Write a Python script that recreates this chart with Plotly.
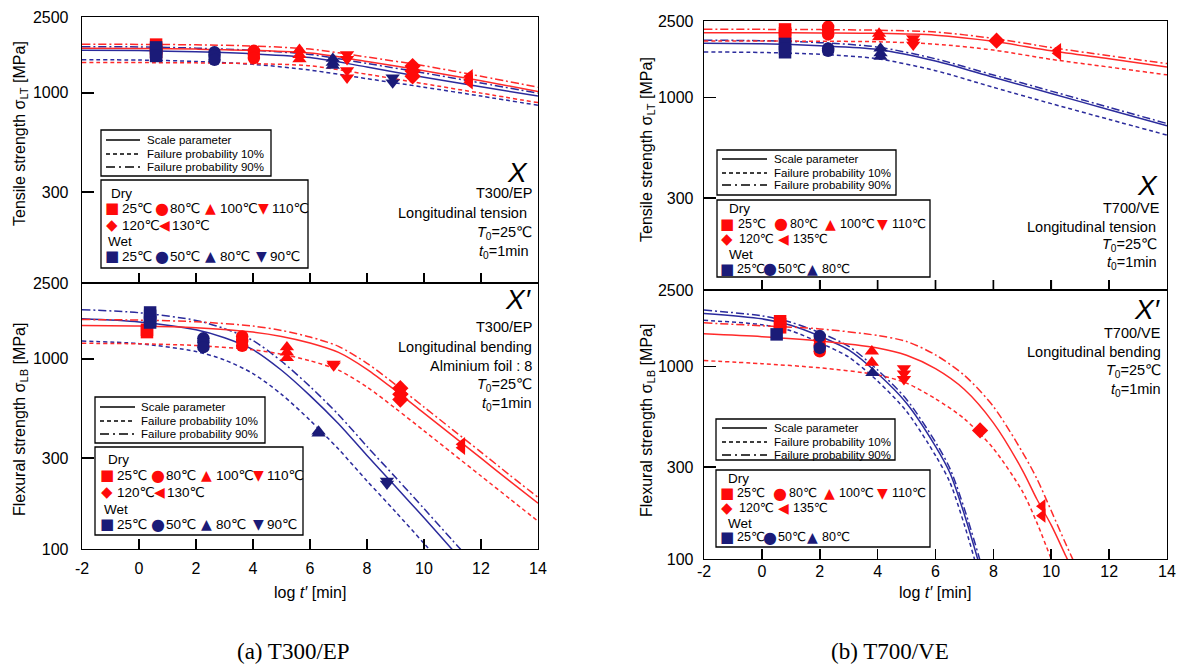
import math
import plotly.graph_objects as go

W, H = 1179, 664

# ---------------- data ----------------
# Top-left: T300/EP longitudinal tension
TL_X = [-2, 0, 2, 4, 6, 8, 10, 12, 14]
TL_DRY_SCALE = [1713, 1710, 1695, 1670, 1615, 1460, 1305, 1155, 1016]
TL_DRY_P90 = [1797, 1795, 1785, 1760, 1695, 1540, 1386, 1220, 1069]
TL_DRY_P10 = [1442, 1440, 1435, 1422, 1385, 1250, 1114, 995, 887]
TL_WET_SCALE = [1672, 1665, 1640, 1600, 1530, 1365, 1205, 1075, 960]
TL_WET_P90 = [1746, 1740, 1715, 1670, 1590, 1425, 1270, 1125, 995]
TL_WET_P10 = [1489, 1485, 1460, 1410, 1315, 1185, 1069, 960, 859]
TL_DRY_PTX = [0.6, 4.03, 5.63, 7.3, 9.6, 11.6]
TL_DRY_PTY = [[1790, 1700, 1630], [1660, 1590, 1520], [1680, 1580, 1500],
              [1590, 1500, 1310, 1200], [1380, 1300, 1220], [1220, 1175, 1135]]
TL_WET_PTX = [0.6, 2.65, 6.8, 8.9]
TL_WET_PTY = [[1730, 1640, 1560], [1630, 1560, 1490], [1510, 1440, 1390], [1200, 1130]]

# Bottom-left: T300/EP longitudinal bending
BL_WX = [-2, 0, 2, 3, 4, 5, 6, 7, 8, 9, 10, 11, 12]
BL_WET_SCALE = [1620, 1560, 1420, 1290, 1115, 870, 640, 455, 310, 213, 146, 99, 68]
BL_WET_P90 = [1811, 1745, 1590, 1440, 1245, 970, 715, 508, 346, 238, 163, 111, 76]
BL_WET_P10 = [1238, 1200, 1090, 985, 835, 650, 475, 335, 228, 157, 107, 73, 50]
BL_DX = [-2, 0, 2, 4, 5, 6, 7, 8, 9, 10, 11, 12, 13, 14]
BL_DRY_SCALE = [1494, 1485, 1455, 1380, 1310, 1210, 1080, 880, 680, 518, 394, 300, 228, 174]
BL_DRY_P90 = [1606, 1596, 1564, 1484, 1408, 1301, 1161, 946, 731, 557, 424, 323, 245, 187]
BL_DRY_P10 = [1205, 1198, 1173, 1113, 1056, 976, 871, 710, 548, 418, 318, 242, 184, 140]
BL_DRY_PTX = [0.28, 3.62, 5.19, 6.83, 9.17, 11.33]
BL_DRY_PTY = [[1420, 1380], [1310, 1240, 1170], [1150, 1080, 1010], [940, 920],
              [700, 650, 610], [355, 340]]
BL_WET_PTX = [0.39, 2.26, 6.3, 8.7]
BL_WET_PTY = [[1750, 1680, 1600, 1550], [1280, 1220, 1150], [415, 405], [228, 220]]

# Top-right: T700/VE longitudinal tension
TR_X = [-2, 0, 2, 4, 6, 8, 10, 12, 14]
TR_DRY_SCALE = [2175, 2173, 2168, 2158, 2110, 1960, 1750, 1590, 1443]
TR_DRY_P90 = [2265, 2262, 2255, 2240, 2190, 2030, 1820, 1650, 1501]
TR_DRY_P10 = [1970, 1968, 1962, 1950, 1895, 1765, 1580, 1440, 1312]
TR_WET_SCALE = [1916, 1905, 1860, 1780, 1550, 1275, 1050, 865, 713]
TR_WET_P90 = [1987, 1975, 1930, 1830, 1590, 1310, 1080, 890, 733]
TR_WET_P10 = [1727, 1715, 1680, 1590, 1380, 1130, 930, 770, 638]
TR_DRY_PTX = [0.8, 2.29, 4.05, 5.23, 8.11, 10.23]
TR_DRY_PTY = [[2260, 2160, 2090], [2330, 2230, 2130], [2150, 2060],
              [2030, 1950, 1880], [1975], [1760, 1700]]
TR_WET_PTX = [0.8, 2.29, 4.1]
TR_WET_PTY = [[1900, 1800, 1720], [1800, 1750], [1800, 1700, 1630]]

# Bottom-right: T700/VE longitudinal bending
BR_WX = [-2, 0, 1, 2, 3, 4, 5, 6, 6.5, 7, 7.5, 8]
BR_WET_SCALE = [1888, 1770, 1640, 1440, 1220, 920, 645, 385, 280, 170, 95, 50]
BR_WET_P90 = [1965, 1835, 1700, 1500, 1275, 960, 675, 405, 295, 182, 103, 55]
BR_WET_P10 = [1740, 1650, 1535, 1330, 1120, 840, 585, 345, 250, 150, 83, 44]
BR_DX = [-2, 0, 2, 4, 5, 6, 7, 8, 9, 9.5, 10, 10.5, 11, 11.5]
BR_DRY_SCALE = [1480, 1430, 1360, 1250, 1145, 975, 760, 510, 290, 205, 150, 104, 72, 48]
BR_DRY_P90 = [1688, 1630, 1570, 1450, 1350, 1150, 900, 620, 360, 262, 178, 120, 82, 55]
BR_DRY_P10 = [1075, 1035, 985, 905, 820, 680, 535, 375, 225, 155, 100, 66, 44, 30]
BR_DRY_PTX = [0.63, 2.0, 3.8, 4.91, 7.54, 9.69]
BR_DRY_PTY = [[1720, 1660, 1600], [1380, 1290, 1200], [1200, 1050],
              [980, 920, 860], [466], [188, 168]]
BR_WET_PTX = [0.51, 2.0, 3.82]
BR_WET_PTY = [[1470], [1440, 1250], [927]]

X_TICKS = [-2, 0, 2, 4, 6, 8, 10, 12, 14]
Y_TICKS_TOP = [2500, 1000, 300]
Y_TICKS_BOT = [2500, 1000, 300, 100]

# ---------------- style ----------------
RED = "#ff0a0a"
BLUE = "#1b1b78"
RED_L = "#ff2a2a"
BLUE_L = "#2b2b9c"
DASH10 = "4px,3px"
DASH90 = "8px,3px,2px,3px"
DRY_SYM = ["square", "circle", "triangle-up", "triangle-down", "diamond", "triangle-left"]
WET_SYM = ["square", "circle", "triangle-up", "triangle-down"]
FONT = "Liberation Sans, Arial, DejaVu Sans"


def px(x):
    return x / W


def py(y):
    return 1 - y / H


def aid(n):
    return "" if n == "1" else n


fig = go.Figure()


def add_curves(xs, scale, p10, p90, color, n):
    for ys, dash in ((scale, "solid"), (p10, DASH10), (p90, DASH90)):
        fig.add_trace(go.Scatter(
            x=xs, y=ys, mode="lines",
            line=dict(color=color, width=1.5, dash=dash, shape="spline", smoothing=0.8),
            xaxis="x" + aid(n), yaxis="y" + aid(n), showlegend=False, hoverinfo="skip"))


def add_points(xs, ylists, syms, color, n):
    for x, ys, s in zip(xs, ylists, syms):
        fig.add_trace(go.Scatter(
            x=[x] * len(ys), y=ys, mode="markers",
            marker=dict(symbol=s, size=12.5, color=color, line=dict(width=0)),
            xaxis="x" + aid(n), yaxis="y" + aid(n), showlegend=False, hoverinfo="skip"))


# panel 1: TL, 2: BL, 3: TR, 4: BR
add_curves(TL_X, TL_WET_SCALE, TL_WET_P10, TL_WET_P90, BLUE_L, "1")
add_curves(TL_X, TL_DRY_SCALE, TL_DRY_P10, TL_DRY_P90, RED_L, "1")
add_points(TL_DRY_PTX, TL_DRY_PTY, DRY_SYM, RED, "1")
add_points(TL_WET_PTX, TL_WET_PTY, WET_SYM, BLUE, "1")

add_curves(BL_WX, BL_WET_SCALE, BL_WET_P10, BL_WET_P90, BLUE_L, "2")
add_curves(BL_DX, BL_DRY_SCALE, BL_DRY_P10, BL_DRY_P90, RED_L, "2")
add_points(BL_DRY_PTX, BL_DRY_PTY, DRY_SYM, RED, "2")
add_points(BL_WET_PTX, BL_WET_PTY, WET_SYM, BLUE, "2")

add_curves(TR_X, TR_WET_SCALE, TR_WET_P10, TR_WET_P90, BLUE_L, "3")
add_curves(TR_X, TR_DRY_SCALE, TR_DRY_P10, TR_DRY_P90, RED_L, "3")
add_points(TR_DRY_PTX, TR_DRY_PTY, DRY_SYM, RED, "3")
add_points(TR_WET_PTX, TR_WET_PTY, WET_SYM, BLUE, "3")

add_curves(BR_WX, BR_WET_SCALE, BR_WET_P10, BR_WET_P90, BLUE_L, "4")
add_curves(BR_DX, BR_DRY_SCALE, BR_DRY_P10, BR_DRY_P90, RED_L, "4")
add_points(BR_DRY_PTX, BR_DRY_PTY, DRY_SYM, RED, "4")
add_points(BR_WET_PTX, BR_WET_PTY, WET_SYM, BLUE, "4")

# ---------------- axes ----------------
panels = {
    "1": dict(x0=82, x1=538, y0=17, y1=283, bottom=False, ystand=9, xstand=4),
    "2": dict(x0=82, x1=538, y0=283, y1=549, bottom=True, ystand=9, xstand=4),
    "3": dict(x0=704, x1=1167, y0=21, y1=290, bottom=False, ystand=6, xstand=-3),
    "4": dict(x0=704, x1=1167, y0=290, y1=559, bottom=True, ystand=6, xstand=-3),
}
layout = dict(width=W, height=H, autosize=False, margin=dict(l=0, r=0, t=0, b=0, pad=0),
              paper_bgcolor="white", plot_bgcolor="rgba(0,0,0,0)", showlegend=False,
              font=dict(family=FONT, color="black"))
for n, p in panels.items():
    xk = "xaxis" + aid(n)
    yk = "yaxis" + aid(n)
    layout[xk] = dict(domain=[px(p["x0"]), px(p["x1"])], anchor="y" + aid(n), range=[-2, 14],
                      tickvals=X_TICKS,
                      ticktext=[str(v) for v in X_TICKS] if p["bottom"] else [""] * len(X_TICKS),
                      showticklabels=True, ticks="inside", ticklen=10, tickwidth=1.6,
                      tickcolor="black", showline=True, linecolor="black", linewidth=1.3,
                      mirror=True, showgrid=False, zeroline=False, automargin=False,
                      tickfont=dict(size=16, family=FONT), ticklabelstandoff=p["xstand"],
                      ticklabeloverflow="allow")
    yt = Y_TICKS_BOT if p["bottom"] else Y_TICKS_TOP
    layout[yk] = dict(domain=[py(p["y1"]), py(p["y0"])], anchor="x" + aid(n), type="log",
                      range=[2, math.log10(2500)], tickvals=yt, ticktext=[str(v) for v in yt],
                      ticks="inside", ticklen=12, tickwidth=1.6, tickcolor="black",
                      showline=True, linecolor="black", linewidth=1.3, mirror=True,
                      showgrid=False, zeroline=False, automargin=False,
                      tickfont=dict(size=16, family=FONT), ticklabelstandoff=p["ystand"],
                      ticklabeloverflow="allow")

shapes = []
annotations = []

# tick marks along the lower edge of the upper panels
for n in ("1", "3"):
    p = panels[n]
    for v in X_TICKS[1:-1]:
        xpix = p["x0"] + (v - X_TICKS[0]) / (X_TICKS[-1] - X_TICKS[0]) * (p["x1"] - p["x0"])
        shapes.append(dict(type="line", xref="paper", yref="paper",
                           x0=px(xpix), x1=px(xpix), y0=py(p["y1"]), y1=py(p["y1"] - 10),
                           line=dict(color="black", width=1.7), layer="above"))


def text(x, y, s, size=14, xanchor="left", color="black", angle=0, family=FONT, yanchor="middle"):
    annotations.append(dict(x=px(x), y=py(y), xref="paper", yref="paper", text=s,
                            showarrow=False, xanchor=xanchor, yanchor=yanchor, borderpad=0,
                            textangle=angle, font=dict(size=size, color=color, family=family)))


def rect(x0, y0, x1, y1):
    shapes.append(dict(type="rect", xref="paper", yref="paper", x0=px(x0), x1=px(x1),
                       y0=py(y1), y1=py(y0), line=dict(color="black", width=1.3),
                       fillcolor="white", layer="above"))


def line_legend(box, rows, sx0, sx1, tx):
    rect(*box)
    labels = ["Scale parameter", "Failure probability 10%", "Failure probability 90%"]
    for y, lab, dash in zip(rows, labels, ["solid", DASH10, "9px,4px,2px,4px"]):
        shapes.append(dict(type="line", xref="paper", yref="paper", x0=px(sx0), x1=px(sx1),
                           y0=py(y), y1=py(y), line=dict(color="black", width=1.3, dash=dash),
                           layer="above"))
        text(tx, y, lab, size=11.5)


SYMCHAR = {"■": 15, "●": 16, "▲": 14, "▼": 14, "◆": 15, "◀": 14}


def marker_legend(box, dry_pos, dry_rows, wet_pos, wet_row, lsize=13.5):
    rect(*box)
    text(dry_pos[0], dry_pos[1], "Dry", size=13.5)
    for y, items in dry_rows:
        for sx, tx, sym, lab in items:
            text(sx, y, sym, size=SYMCHAR[sym], xanchor="center", color=RED, family="DejaVu Sans")
            text(tx, y, lab, size=lsize)
    text(wet_pos[0], wet_pos[1], "Wet", size=13.5)
    y, items = wet_row
    for sx, tx, sym, lab in items:
        text(sx, y, sym, size=SYMCHAR[sym], xanchor="center", color=BLUE, family="DejaVu Sans")
        text(tx, y, lab, size=lsize)


# Top-left legends
line_legend((101, 130, 271, 176), [140, 154, 167], 106, 140, 146)
marker_legend((101, 180, 308, 268), (110, 193),
              [(208, [(112, 121, "■", "25℃"), (162, 169, "●", "80℃"), (210, 219, "▲", "100℃"), (263, 271, "▼", "110℃")]),
               (225, [(112, 121, "◆", "120℃"), (164, 171, "◀", "130℃")])],
              (107, 241),
              (256, [(112, 121, "■", "25℃"), (162, 169, "●", "50℃"), (210, 219, "▲", "80℃"), (261, 269, "▼", "90℃")]))
# Bottom-left legends
line_legend((95, 397, 265, 443), [407, 421, 434], 100, 135, 140)
marker_legend((95, 447, 303, 535), (107, 460),
              [(475, [(107, 116, "■", "25℃"), (158, 165, "●", "80℃"), (206, 215, "▲", "100℃"), (258, 266, "▼", "110℃")]),
               (492, [(107, 116, "◆", "120℃"), (159, 166, "◀", "130℃")])],
              (103, 509),
              (524, [(107, 116, "■", "25℃"), (158, 165, "●", "50℃"), (206, 215, "▲", "80℃"), (258, 266, "▼", "90℃")]))
# Top-right legends
line_legend((717, 150, 896, 195), [159, 173, 185], 722, 767, 773)
marker_legend((717, 200, 930, 277), (728, 209),
              [(224, [(727, 737, "■", "25℃"), (781, 789, "●", "80℃"), (830, 839, "▲", "100℃"), (882, 891, "▼", "110℃")]),
               (239, [(727, 738, "◆", "120℃"), (784, 792, "◀", "135℃")])],
              (728, 254),
              (269, [(727, 736, "■", "25℃"), (770, 777, "●", "50℃"), (812, 821, "▲", "80℃")]), lsize=12.5)
# Bottom-right legends
line_legend((716, 419, 895, 460), [428, 442, 455], 722, 767, 773)
marker_legend((716, 470, 930, 547), (727, 478),
              [(493, [(727, 736, "■", "25℃"), (780, 788, "●", "80℃"), (829, 838, "▲", "100℃"), (882, 891, "▼", "110℃")]),
               (508, [(727, 738, "◆", "120℃"), (784, 792, "◀", "135℃")])],
              (727, 523),
              (537, [(727, 736, "■", "25℃"), (770, 777, "●", "50℃"), (812, 821, "▲", "80℃")]), lsize=12.5)

# Panel descriptions
T0 = "<i>T</i><sub>0</sub>=25℃"
t0 = "<i>t</i><sub>0</sub>=1min"
text(529, 172, "<i>X</i>", size=28, xanchor="right")
for y, s, r in [(193, "T300/EP", 533), (213, "Longitudinal tension", 528), (233, T0, 533), (252, t0, 530)]:
    text(r, y, s, size=14.5, xanchor="right")
text(533, 299, "<i>X′</i>", size=28, xanchor="right")
for y, s in [(327, "T300/EP"), (347, "Longitudinal bending"), (366, "Alminium foil : 8"), (385, T0), (404, t0)]:
    text(533, y, s, size=14.5, xanchor="right")
text(1159, 186, "<i>X</i>", size=28, xanchor="right")
for y, s, r in [(208, "T700/VE", 1161), (227, "Longitudinal tension", 1157), (245, T0, 1158), (263, t0, 1158)]:
    text(r, y, s, size=14.5, xanchor="right")
text(1162, 309, "<i>X′</i>", size=28, xanchor="right")
for y, s in [(333, "T700/VE"), (352, "Longitudinal bending"), (371, T0), (390, t0)]:
    text(1162, y, s, size=14.5, xanchor="right")

# Axis titles
text(20, 134, "Tensile strength σ<sub>LT</sub> [MPa]", size=16, xanchor="center", angle=-90)
text(20, 420, "Flexural strength σ<sub>LB</sub> [MPa]", size=16, xanchor="center", angle=-90)
text(647, 150, "Tensile strength σ<sub>LT</sub> [MPa]", size=16, xanchor="center", angle=-90)
text(647, 421, "Flexural strength σ<sub>LB</sub> [MPa]", size=16, xanchor="center", angle=-90)
text(310, 592, "log <i>t′</i> [min]", size=16, xanchor="center")
text(935, 592, "log <i>t′</i> [min]", size=16, xanchor="center")

# Captions
text(293, 651, "(a) T300/EP", size=23, xanchor="center", family="Liberation Serif, Times New Roman, serif")
text(890, 651, "(b) T700/VE", size=23, xanchor="center", family="Liberation Serif, Times New Roman, serif")

layout["shapes"] = shapes
layout["annotations"] = annotations
fig.update_layout(**layout)
fig.write_html("out.html", config={"displayModeBar": False, "staticPlot": True},
               post_script="document.body.style.margin='0';document.body.style.padding='0';")
